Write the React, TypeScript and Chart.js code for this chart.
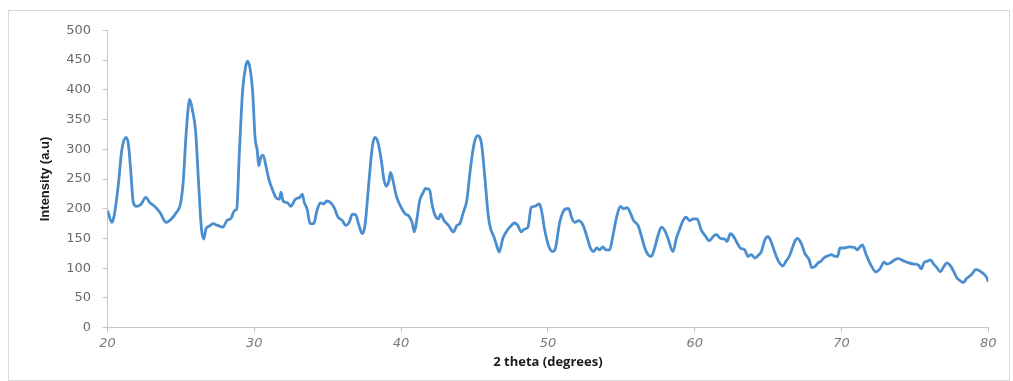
import React, { useEffect, useRef } from "react";
import { Chart, registerables } from "chart.js";

Chart.register(...registerables);

const twoTheta = [
  20.0, 20.3, 20.45, 20.75, 20.97, 21.26, 21.42, 21.58, 21.76, 21.99,
  22.3, 22.6, 22.9, 23.2, 23.57, 24.0, 24.36, 24.7, 24.97, 25.15,
  25.37, 25.6, 25.8, 26.0, 26.23, 26.4, 26.57, 26.7, 26.95, 27.18,
  27.5, 27.86, 28.13, 28.42, 28.65, 28.8, 28.98, 29.2, 29.4, 29.55,
  29.73, 29.9, 30.05, 30.2, 30.3, 30.45, 30.6, 30.8, 31.0, 31.24,
  31.47, 31.7, 31.82, 31.96, 32.26, 32.48, 32.8, 33.1, 33.27, 33.4,
  33.6, 33.8, 34.05, 34.27, 34.5, 34.7, 34.95, 35.2, 35.44, 35.7,
  36.0, 36.23, 36.46, 36.68, 36.9, 37.13, 37.36, 37.54, 37.8, 38.04,
  38.2, 38.42, 38.65, 38.83, 39.0, 39.16, 39.28, 39.46, 39.68, 39.95,
  40.3, 40.52, 40.75, 40.9, 41.08, 41.26, 41.5, 41.65, 41.94, 42.1,
  42.33, 42.55, 42.7, 42.93, 43.23, 43.57, 43.8, 44.0, 44.24, 44.47,
  44.74, 44.97, 45.2, 45.48, 45.7, 45.94, 46.1, 46.32, 46.5, 46.68,
  46.93, 47.16, 47.4, 47.73, 47.95, 48.18, 48.4, 48.64, 48.86, 49.1,
  49.4, 49.55, 49.77, 50.07, 50.34, 50.52, 50.8, 51.02, 51.25, 51.43,
  51.6, 51.82, 52.1, 52.4, 52.66, 52.9, 53.1, 53.34, 53.52, 53.75,
  53.93, 54.2, 54.43, 54.7, 54.93, 55.16, 55.4, 55.6, 55.84, 56.14,
  56.36, 56.6, 56.82, 57.05, 57.27, 57.5, 57.73, 57.95, 58.18, 58.52,
  58.75, 58.98, 59.2, 59.4, 59.66, 59.9, 60.16, 60.45, 60.7, 61.0,
  61.25, 61.48, 61.75, 62.05, 62.2, 62.43, 62.6, 62.84, 63.1, 63.4,
  63.63, 63.86, 64.1, 64.3, 64.54, 64.77, 64.99, 65.2, 65.44, 65.7,
  66.0, 66.23, 66.46, 66.68, 66.86, 67.0, 67.25, 67.5, 67.8, 67.97,
  68.2, 68.4, 68.6, 68.83, 69.1, 69.3, 69.55, 69.73, 69.9, 70.18,
  70.52, 70.86, 71.08, 71.26, 71.42, 71.65, 71.87, 72.1, 72.32, 72.62,
  72.9, 73.1, 73.34, 73.6, 73.9, 74.24, 74.58, 74.92, 75.26, 75.42,
  75.64, 75.87, 76.05, 76.28, 76.5, 76.73, 76.95, 77.18, 77.45, 77.63,
  77.86, 78.08, 78.3, 78.53, 78.8, 79.0, 79.16, 79.44, 79.66, 79.9,
  80.0,
];

const intensity = [
  197, 177, 188, 243, 298, 320, 309, 265, 210, 204,
  208, 219, 210, 204, 194, 177, 183, 194, 208, 243,
  331, 384, 364, 331, 232, 166, 149, 166, 171, 175,
  172, 169, 180, 184, 197, 199, 293, 397, 438, 448,
  433, 392, 320, 298, 272, 287, 290, 271, 249, 232,
  219, 216, 228, 213, 210, 204, 216, 219, 224, 211,
  199, 175, 175, 197, 210, 208, 213, 210, 202, 186,
  180, 172, 177, 191, 190, 172, 158, 172, 243, 304,
  320, 312, 282, 249, 238, 246, 261, 246, 221, 205,
  191, 188, 177, 161, 183, 213, 227, 234, 232, 208,
  188, 183, 191, 180, 172, 161, 172, 175, 194, 213,
  271, 309, 323, 309, 254, 188, 166, 153, 139, 127,
  150, 161, 169, 176, 172, 161, 166, 169, 202, 204,
  208, 199, 166, 136, 128, 134, 177, 194, 200, 200,
  186, 177, 180, 172, 153, 134, 128, 134, 131, 136,
  131, 131, 155, 188, 204, 200, 202, 194, 180, 172,
  155, 134, 123, 120, 134, 155, 169, 164, 150, 128,
  150, 166, 180, 186, 180, 183, 183, 164, 155, 146,
  153, 157, 150, 149, 145, 158, 155, 145, 134, 131,
  120, 123, 117, 121, 128, 147, 153, 145, 128, 112,
  104, 112, 121, 136, 147, 150, 142, 125, 114, 101,
  103, 109, 112, 118, 121, 123, 120, 120, 134, 134,
  136, 135, 131, 136, 139, 125, 112, 101, 94, 99,
  110, 107, 109, 114, 116, 112, 109, 107, 105, 99,
  110, 112, 114, 107, 101, 94, 102, 109, 103, 95,
  84, 79, 76, 83, 88, 94, 98, 95, 91, 84,
  77,
];

const xTickValues = [20, 30, 40, 50, 60, 70, 80];
const yTickValues = [0, 50, 100, 150, 200, 250, 300, 350, 400, 450, 500];
const xTitle = "2 theta (degrees)";
const yTitle = "Intensity (a.u)";

export default function App() {
  const ref = useRef<HTMLCanvasElement>(null);

  useEffect(() => {
    document.body.style.margin = "0";
    document.body.style.overflow = "hidden";
    const axisColor = "#c6c6c6";
    const chart = new Chart(ref.current as HTMLCanvasElement, {
      type: "line",
      data: {
        datasets: [
          {
            data: twoTheta.map((x, i) => ({ x, y: intensity[i] })),
            borderColor: "#4a8ed0",
            borderWidth: 2.8,
            pointRadius: 0,
            cubicInterpolationMode: "monotone",
            fill: false,
          },
        ],
      },
      options: {
        animation: false,
        responsive: false,
        layout: { padding: { left: 0, right: 20.7, top: 13.3, bottom: 0 } },
        plugins: { legend: { display: false }, tooltip: { enabled: false } },
        scales: {
          x: {
            type: "linear",
            min: 20,
            max: 80,
            afterBuildTicks: (s: any) => {
              s.ticks = xTickValues.map((v) => ({ value: v }));
            },
            afterFit: (s: any) => {
              s.height = 52.3;
            },
            border: { display: true, color: axisColor, width: 1 },
            grid: { drawOnChartArea: false, drawTicks: true, tickLength: 5, color: axisColor },
            ticks: {
              padding: 3,
              color: "#7a7a7a",
              font: { family: "DejaVu Sans", size: 13, style: "italic" },
              maxRotation: 0,
            },
            title: {
              display: true,
              text: xTitle,
              color: "#1a1a1a",
              font: { family: "Open Sans", size: 13, weight: "bold" },
              padding: { top: 0, bottom: 10.2 },
            },
          },
          y: {
            type: "linear",
            min: 0,
            max: 500,
            afterBuildTicks: (s: any) => {
              s.ticks = yTickValues.map((v) => ({ value: v }));
            },
            afterFit: (s: any) => {
              s.width = 98.5;
            },
            border: { display: true, color: axisColor, width: 1 },
            grid: { drawOnChartArea: false, drawTicks: true, tickLength: 5, color: axisColor },
            ticks: {
              padding: 11.5,
              color: "#6a6a6a",
              font: { family: "DejaVu Sans", size: 13 },
            },
            title: {
              display: true,
              text: yTitle,
              color: "#1a1a1a",
              font: { family: "Liberation Sans Narrow, Liberation Sans, sans-serif", size: 13, weight: "bold" },
              padding: { top: 28.2, bottom: 0 },
            },
          },
        },
      },
    });
    return () => chart.destroy();
  }, []);

  return (
    <div
      style={{
        position: "absolute",
        left: 8,
        top: 10,
        width: 1002,
        height: 371,
        border: "1px solid #d9d9d9",
        boxSizing: "border-box",
        background: "#fff",
      }}
    >
      <canvas ref={ref} width={1000} height={369} style={{ display: "block" }} />
    </div>
  );
}
